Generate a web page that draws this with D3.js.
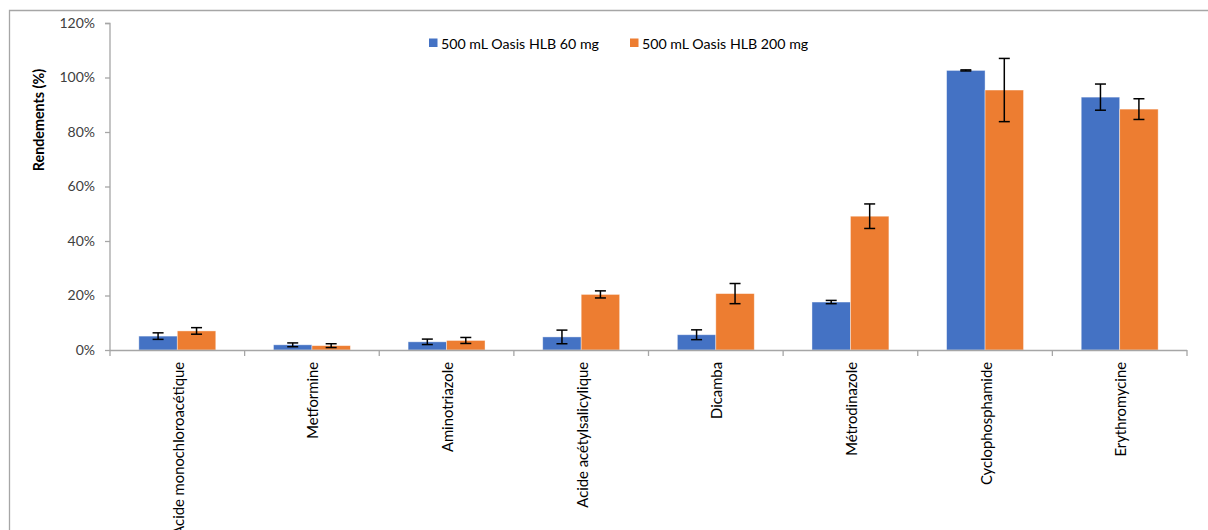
<!DOCTYPE html>
<html><head><meta charset="utf-8">
<script src="https://cdn.jsdelivr.net/npm/d3@7/dist/d3.min.js"></script>
<style>body{margin:0;background:#fff;}svg{display:block;font-family:Lato,"Open Sans",sans-serif;}</style>
</head><body>
<svg id="c" width="1208" height="530"></svg>
<script>
const categories = ["Acide monochloroacétique","Metformine","Aminotriazole","Acide acétylsalicylique","Dicamba","Métrodinazole","Cyclophosphamide","Erythromycine"];
const seriesNames = ["500 mL Oasis HLB 60 mg","500 mL Oasis HLB 200 mg"];
const values60 = [5.1, 1.9, 3.0, 4.8, 5.6, 17.6, 102.6, 92.8];
const errors60 = [1.2, 0.7, 1.0, 2.5, 1.8, 0.6, 0.2, 4.8];
const values200 = [7.0, 1.6, 3.5, 20.4, 20.7, 49.1, 95.4, 88.4];
const errors200 = [1.2, 0.7, 1.1, 1.3, 3.7, 4.5, 11.6, 3.8];
const yTicks = [0, 20, 40, 60, 80, 100, 120];
const colors = ["#4472C4", "#ED7D31"];

(function(){
const svg = d3.select("#c");
// outer frame
svg.append("path").attr("d","M9.5,535 L9.5,10.5 L1215,10.5").attr("fill","none").attr("stroke","#a6a6a6").attr("stroke-width",1.3);

const pL = 110, pR = 1187, pT = 23, pB = 350;
const x0 = d3.scaleBand().domain(categories).range([pL, pR]).padding(0);
const x1 = d3.scaleBand().domain([0,1]).range([0, x0.bandwidth()]).paddingOuter(0.75).paddingInner(0);
const y = d3.scaleLinear().domain([0,120]).range([pB, pT]);

const series = [
  {vals: values60, errs: errors60},
  {vals: values200, errs: errors200}
];

series.forEach((s, si) => {
  const g = svg.append("g");
  g.selectAll("rect").data(categories).join("rect")
    .attr("x", (c) => x0(c) + x1(si))
    .attr("width", x1.bandwidth())
    .attr("y", (c,i) => y(s.vals[i]))
    .attr("height", (c,i) => y(0) - y(s.vals[i]))
    .attr("fill", colors[si])
    .attr("stroke", "#ffffff").attr("stroke-opacity",0.5).attr("stroke-width",0.8);
});

// axes
const yAxis = d3.axisLeft(y).tickValues(yTicks).tickFormat(d => d + "%").tickSize(5).tickPadding(10);
const ya = svg.append("g").attr("transform", `translate(${pL},0)`).call(yAxis);
ya.select(".domain").attr("stroke","#a6a6a6").attr("stroke-width",1.3).attr("d", `M-5,${pT}.5H0V${pB}`);
ya.selectAll(".tick line").attr("stroke","#a6a6a6").attr("stroke-width",1.3);
ya.selectAll("text").attr("font-size",14).attr("fill","#404040").attr("font-family","Lato,sans-serif");

const xa = svg.append("g").attr("transform", `translate(0,${pB})`);
xa.append("line").attr("x1",pL).attr("x2",pR).attr("y1",0.5).attr("y2",0.5).attr("stroke","#a6a6a6").attr("stroke-width",1.5);
const bounds = categories.map(c => x0(c)).concat([pR]);
xa.selectAll("line.tk").data(bounds).join("line").attr("class","tk")
  .attr("x1", d => d).attr("x2", d => d).attr("y1", 0).attr("y2", 6)
  .attr("stroke","#a6a6a6").attr("stroke-width",1.3);
xa.selectAll("text").data(categories).join("text")
  .attr("transform", c => `translate(${x0(c) + x0.bandwidth()/2 + 6.5},12) rotate(-90)`)
  .attr("text-anchor","end")
  .attr("font-size",14.8).attr("fill","#000")
  .text(c => c);

// error bars on top
series.forEach((s, si) => {
  const g = svg.append("g").attr("stroke","#000").attr("stroke-width",1.5);
  categories.forEach((c, i) => {
    const cx = x0(c) + x1(si) + x1.bandwidth()/2;
    const hi = y(s.vals[i] + s.errs[i]), lo = y(s.vals[i] - s.errs[i]);
    g.append("line").attr("x1",cx).attr("x2",cx).attr("y1",hi).attr("y2",lo);
    g.append("line").attr("x1",cx-5.5).attr("x2",cx+5.5).attr("y1",hi).attr("y2",hi);
    g.append("line").attr("x1",cx-5.5).attr("x2",cx+5.5).attr("y1",lo).attr("y2",lo);
  });
});

// y title
svg.append("text").attr("transform","translate(44,120) rotate(-90)")
  .attr("text-anchor","middle").attr("font-weight","bold").attr("font-size",14.3)
  .text("Rendements (%)");

// legend
const legX = [429, 630];
seriesNames.forEach((n, i) => {
  svg.append("rect").attr("x", legX[i]).attr("y", 38.5).attr("width", 8.5).attr("height", 8.5).attr("fill", colors[i]);
  svg.append("text").attr("x", legX[i] + 12).attr("y", 48.5).attr("font-size", 14.2).attr("fill","#000").text(n);
});
})();
</script>
</body></html>
